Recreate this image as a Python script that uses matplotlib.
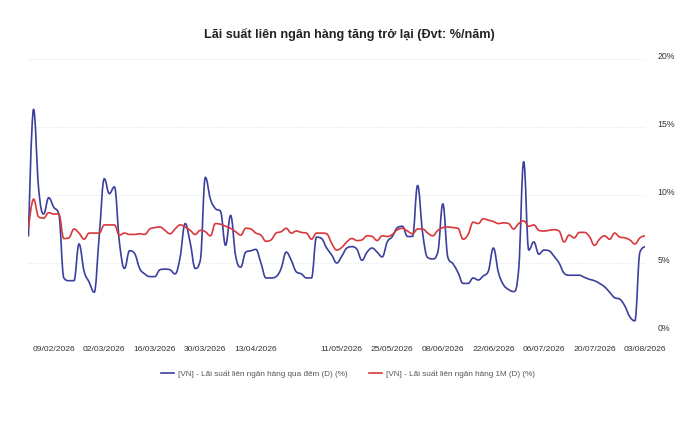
import matplotlib
matplotlib.use("Agg")
import matplotlib.pyplot as plt
import matplotlib.transforms as mtransforms
from matplotlib.path import Path
from matplotlib.patches import PathPatch
from matplotlib.lines import Line2D
import pandas as pd

# trading days (Vietnam holidays removed: Tet, 27/04, 30/04, 01/05)
holidays = ["2026-02-16", "2026-02-17", "2026-02-18", "2026-02-19", "2026-02-20",
            "2026-04-27", "2026-04-30", "2026-05-01"]
dates = pd.bdate_range("2026-02-02", "2026-08-03")
dates = dates[~dates.isin(pd.to_datetime(holidays))]

overnight = [
    7.0, 16.3, 10.5, 8.6, 9.8, 9.1, 8.6, 3.9, 3.7, 3.7,
    6.4, 4.4, 3.6, 2.85, 7.0, 11.2, 10.1, 10.6, 6.5, 4.6,
    5.9, 5.7, 4.6, 4.2, 4.0, 4.0, 4.5, 4.55, 4.5, 4.2,
    5.4, 7.9, 6.5, 4.6, 5.2, 11.3, 9.7, 9.0, 8.8, 6.3,
    8.5, 5.5, 4.7, 5.8, 5.9, 6.0, 5.0, 3.9, 3.9, 4.0,
    4.6, 5.8, 5.2, 4.35, 4.2, 3.9, 3.9, 6.9, 6.8, 6.1,
    5.6, 5.0, 5.5, 6.1, 6.2, 6.0, 5.2, 5.8, 6.1, 5.8,
    5.45, 6.55, 6.95, 7.6, 7.7, 6.95, 6.95, 10.7, 7.2, 5.4,
    5.3, 5.8, 9.35, 5.4, 4.95, 4.3, 3.5, 3.5, 3.9, 3.75,
    4.05, 4.4, 6.1, 4.3, 3.4, 3.05, 2.9, 4.5, 12.45, 5.95,
    6.55, 5.65, 5.95, 5.9, 5.5, 5.0, 4.25, 4.1, 4.1, 4.1,
    3.95, 3.8, 3.7, 3.5, 3.25, 2.85, 2.45, 2.35, 1.85, 1.05,
    0.75, 5.8, 6.2,
]

one_month = [
    7.6, 9.7, 8.4, 8.3, 8.7, 8.6, 8.6, 6.8, 6.85, 7.5,
    7.2, 6.75, 7.2, 7.2, 7.2, 7.8, 7.8, 7.8, 7.05, 7.2,
    7.1, 7.1, 7.15, 7.1, 7.5, 7.6, 7.65, 7.4, 7.15, 7.5,
    7.8, 7.65, 7.4, 7.1, 7.4, 7.3, 7.0, 7.9, 7.85, 7.7,
    7.55, 7.3, 7.05, 7.55, 7.5, 7.2, 7.05, 6.6, 6.7, 7.2,
    7.3, 7.55, 7.2, 7.35, 7.25, 7.2, 6.75, 7.2, 7.2, 7.15,
    6.45, 5.95, 6.15, 6.55, 6.8, 6.65, 6.7, 7.0, 6.95, 6.65,
    7.0, 6.95, 7.1, 7.45, 7.55, 7.35, 7.15, 7.5, 7.5, 7.2,
    7.0, 7.4, 7.6, 7.65, 7.6, 7.55, 6.75, 7.1, 8.0, 7.9,
    8.25, 8.15, 8.05, 7.9, 7.95, 7.9, 7.5, 7.9, 8.1, 7.7,
    7.8, 7.4, 7.35, 7.4, 7.45, 7.35, 6.55, 7.05, 6.85, 7.25,
    7.25, 6.95, 6.3, 6.75, 7.0, 6.75, 7.2, 6.9, 6.85, 6.7,
    6.4, 6.85, 7.0,
]

tick_dates = ["09/02/2026", "02/03/2026", "16/03/2026", "30/03/2026", "13/04/2026",
              "11/05/2026", "25/05/2026", "08/06/2026", "22/06/2026", "06/07/2026",
              "20/07/2026", "03/08/2026"]
y_ticks = [0, 5, 10, 15, 20]
y_labels = ["0%", "5%", "10%", "15%", "20%"]

title = "Lãi suất liên ngân hàng tăng trở lại (Đvt: %/năm)"
name_on = "[VN] - Lãi suất liên ngân hàng qua đêm (D) (%)"
name_1m = "[VN] - Lãi suất liên ngân hàng 1M (D) (%)"

BLUE = "#3b3f9d"
RED = "#d8383c"


def spline_path(xs, ys, smoothing=1.5):
    # smooth curve through the points, same idea as a highcharts "spline" series
    n = len(xs)
    left = [(xs[i], ys[i]) for i in range(n)]
    right = [(xs[i], ys[i]) for i in range(n)]
    d = smoothing + 1
    for i in range(1, n - 1):
        lx = (smoothing * xs[i] + xs[i - 1]) / d
        ly = (smoothing * ys[i] + ys[i - 1]) / d
        rx = (smoothing * xs[i] + xs[i + 1]) / d
        ry = (smoothing * ys[i] + ys[i + 1]) / d
        corr = (ry - ly) * (rx - xs[i]) / (rx - lx) + ys[i] - ry
        ly += corr
        ry += corr
        hi = max(ys[i - 1], ys[i])
        lo = min(ys[i - 1], ys[i])
        if ly > hi:
            ly = hi
            ry = 2 * ys[i] - ly
        elif ly < lo:
            ly = lo
            ry = 2 * ys[i] - ly
        hi = max(ys[i + 1], ys[i])
        lo = min(ys[i + 1], ys[i])
        if ry > hi:
            ry = hi
            ly = 2 * ys[i] - ry
        elif ry < lo:
            ry = lo
            ly = 2 * ys[i] - ry
        left[i] = (lx, ly)
        right[i] = (rx, ry)
    verts = [(xs[0], ys[0])]
    codes = [Path.MOVETO]
    for i in range(1, n):
        verts += [right[i - 1], left[i], (xs[i], ys[i])]
        codes += [Path.CURVE4] * 3
    return Path(verts, codes)


plt.rcParams["font.family"] = ["Liberation Sans", "DejaVu Sans"]

fig = plt.figure(figsize=(7.0, 4.26), dpi=100)
fig.patch.set_facecolor("white")
ax = fig.add_axes([0.0407, 0.223, 0.8807, 0.6385])

x = list(range(len(dates)))
for vals, col in [(overnight, BLUE), (one_month, RED)]:
    ax.add_patch(PathPatch(spline_path(x, vals), facecolor="none", edgecolor=col,
                           linewidth=1.2, joinstyle="round", capstyle="round"))

ax.set_xlim(0, len(dates) - 1)
ax.set_ylim(0, 20)

pos = {d.strftime("%d/%m/%Y"): i for i, d in enumerate(dates)}
ax.set_xticks([pos[t] for t in tick_dates])
ax.set_xticklabels(tick_dates, fontsize=6.1, color="#333333")
ax.tick_params(axis="x", length=0, pad=11)

ax.yaxis.tick_right()
ax.set_yticks(y_ticks)
ax.set_yticklabels(y_labels, fontsize=6.3, color="#333333", va="center")
ax.tick_params(axis="y", length=0, pad=9)
offset = mtransforms.ScaledTranslation(0, 1.5 / 72, fig.dpi_scale_trans)
for lab in ax.get_yticklabels():
    lab.set_transform(lab.get_transform() + offset)

ax.grid(axis="y", color="#d9d9d9", linestyle=(0, (1, 2)), linewidth=0.6)
ax.set_axisbelow(True)
for s in ax.spines.values():
    s.set_visible(False)

fig.text(0.4993, 0.92, title, ha="center", va="center", fontsize=9.1,
         fontweight="bold", color="#222222")

handles = [Line2D([], [], color=BLUE, linewidth=1.2), Line2D([], [], color=RED, linewidth=1.2)]
fig.legend(handles, [name_on, name_1m], loc="center", bbox_to_anchor=(0.497, 0.122),
           ncol=2, frameon=False, fontsize=5.9, labelcolor="#555555", handlelength=1.6,
           handletextpad=0.5, columnspacing=2.6)

fig.savefig("out.png", dpi=100, facecolor="white")
